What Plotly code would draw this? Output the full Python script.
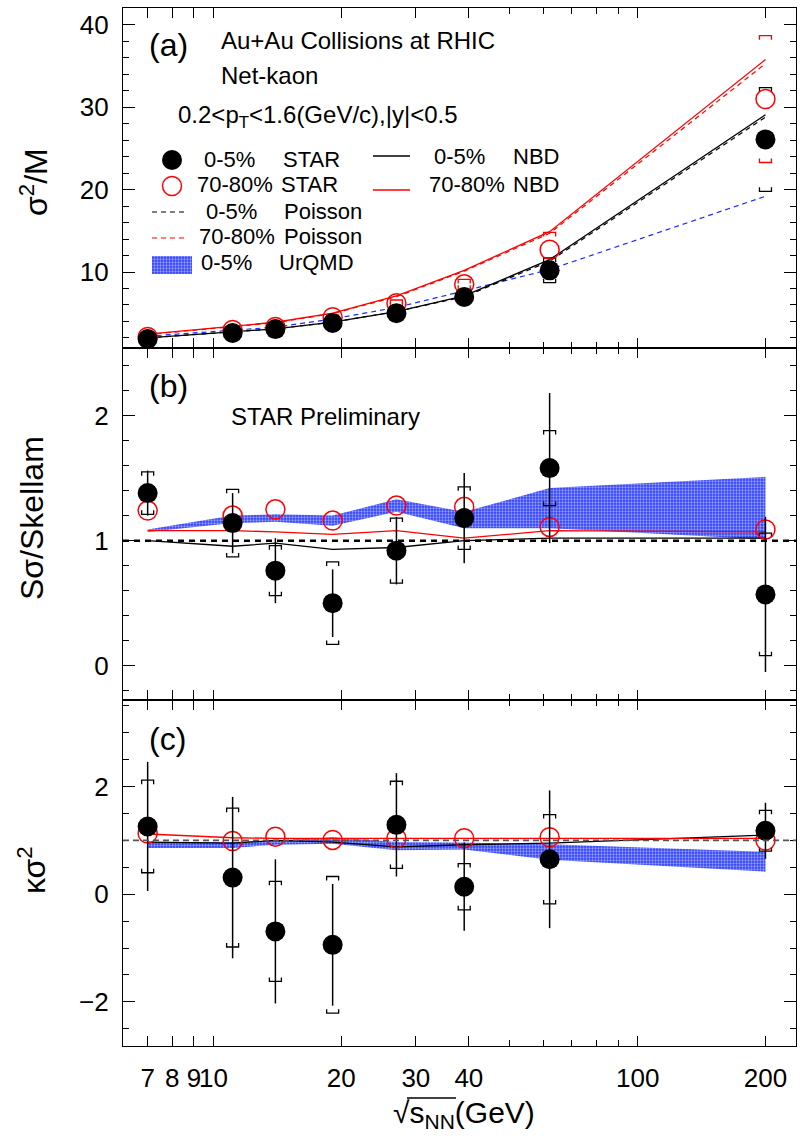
import plotly.graph_objects as go

# Collision energies (GeV) where the points are placed
energy = [7.0, 11.1, 14.0, 19.1, 27.0, 39.0, 62.0, 200.0]

# ---- (a) sigma^2/M ----
sm_central = [1.86, 2.59, 3.07, 3.80, 5.00, 6.96, 10.2, 26.1]
sm_central_sys = [0.15, 0.15, 0.15, 0.2, 0.3, 0.5, 1.5, 6.3]
sm_periph = [2.10, 2.96, 3.32, 4.50, 6.20, 8.50, 12.7, 31.0]
sm_periph_sys = [0.2, 0.2, 0.2, 0.3, 0.4, 0.6, 2.1, 7.7]
sm_nbd_central = [2.0, 2.7, 3.1, 3.9, 5.2, 7.1, 11.5, 29.1]
sm_poisson_central = [2.0, 2.7, 3.1, 3.9, 5.2, 7.0, 11.3, 28.8]
sm_nbd_periph = [2.45, 3.4, 3.9, 5.0, 7.1, 10.2, 14.9, 35.8]
sm_poisson_periph = [2.4, 3.35, 3.85, 4.95, 7.0, 10.1, 14.7, 35.3]
sm_urqmd = [2.2, 2.95, 3.3, 4.3, 5.7, 7.7, 10.3, 19.2]

# ---- (b) S*sigma / Skellam ----
ss_central = [1.38, 1.14, 0.76, 0.50, 0.92, 1.18, 1.58, 0.57]
ss_central_stat = [0.18, 0.24, 0.26, 0.27, 0.27, 0.36, 0.60, 0.62]
ss_central_sys = [0.17, 0.27, 0.20, 0.33, 0.26, 0.25, 0.30, 0.49]
ss_periph = [1.24, 1.20, 1.25, 1.16, 1.28, 1.27, 1.11, 1.09]
ss_nbd_central = [1.00, 0.955, 0.98, 0.93, 0.945, 1.00, 1.02, 1.02]
ss_nbd_periph = [1.08, 1.08, 1.07, 1.05, 1.08, 1.02, 1.08, 1.07]
ss_urqmd_hi = [1.09, 1.20, 1.21, 1.20, 1.33, 1.23, 1.42, 1.51]
ss_urqmd_lo = [1.07, 1.14, 1.15, 1.12, 1.23, 1.10, 1.10, 1.01]

# ---- (c) kappa*sigma^2 ----
ks_central = [1.26, 0.31, -0.69, -0.94, 1.29, 0.14, 0.65, 1.18]
ks_central_stat = [1.20, 1.50, 1.34, 1.13, 0.96, 0.82, 1.28, 0.52]
ks_central_sys = [0.86, 1.29, 0.93, 1.27, 0.81, 0.43, 0.83, 0.38]
ks_periph = [1.13, 0.99, 1.07, 1.01, 1.04, 1.04, 1.06, 1.00]
ks_nbd_central = [0.97, 0.95, 1.00, 0.97, 0.88, 0.92, 0.95, 1.10]
ks_nbd_periph = [1.12, 1.05, 1.04, 1.04, 1.05, 1.05, 1.05, 1.04]
ks_urqmd_hi = [0.97, 0.97, 1.00, 1.06, 0.97, 0.96, 0.93, 0.79]
ks_urqmd_lo = [0.86, 0.86, 0.92, 0.94, 0.82, 0.83, 0.64, 0.42]

x_tick_vals = [7, 8, 9, 10, 20, 30, 40, 100, 200]
x_minor_vals = [50, 60, 70, 80, 90]

# ---------------- geometry ----------------
W, H = 800, 1140
X0, X1 = 123, 796
LOG_RANGE = [0.787, 2.373]
PANELS = {  # pixel top, pixel bottom, y range
    "a": (8, 348, [0.77, 42.06]),
    "b": (348, 700, [-0.274, 2.54]),
    "c": (700, 1046, [-2.82, 3.61]),
}
FONT = "Liberation Sans, Arial, Helvetica, sans-serif"
BLUE = "#1a2bff"
URQMD_PATTERN = dict(shape=".", bgcolor="#2e40ff", fgcolor="white", size=3, solidity=0.45)


def ydomain(key):
    top, bot, _ = PANELS[key]
    return [1 - bot / H, 1 - top / H]


def px_per_unit(key):
    top, bot, rng = PANELS[key]
    return (bot - top) / (rng[1] - rng[0])


def brackets(xs, ys, errs, key, half_px=6, leg_px=4):
    """Systematic-error brackets: a short bar with small legs pointing to the point."""
    f = 10 ** (half_px * (LOG_RANGE[1] - LOG_RANGE[0]) / (X1 - X0))
    leg = leg_px / px_per_unit(key)
    bx, by = [], []
    for x, y, e in zip(xs, ys, errs):
        hi, lo = y + e, y - e
        bx += [x / f, x / f, x * f, x * f, None, x / f, x / f, x * f, x * f, None]
        by += [hi - leg, hi, hi, hi - leg, None, lo + leg, lo, lo, lo + leg, None]
    return bx, by


fig = go.Figure()
axes = {"a": ("x", "y"), "b": ("x2", "y2"), "c": ("x3", "y3")}


def line(key, ys, color, dash="solid", width=1.3):
    xa, ya = axes[key]
    fig.add_trace(go.Scatter(x=energy, y=ys, mode="lines", xaxis=xa, yaxis=ya,
                             line=dict(color=color, width=width, dash=dash), showlegend=False))


def band(key, lo, hi):
    xa, ya = axes[key]
    fig.add_trace(go.Scatter(x=energy + energy[::-1], y=hi + lo[::-1], mode="lines",
                             fill="toself", fillcolor="rgba(0,0,0,0)", fillpattern=URQMD_PATTERN,
                             line=dict(width=0, color=BLUE), xaxis=xa, yaxis=ya, showlegend=False))


def sys_brackets(key, ys, errs, color):
    xa, ya = axes[key]
    bx, by = brackets(energy, ys, errs, key)
    fig.add_trace(go.Scatter(x=bx, y=by, mode="lines", xaxis=xa, yaxis=ya,
                             line=dict(color=color, width=1.3), showlegend=False))


def points(key, ys, filled, stat=None):
    xa, ya = axes[key]
    if filled:
        marker = dict(symbol="circle", size=20, color="black", line=dict(width=0))
    else:
        marker = dict(symbol="circle-open", size=19, color="red", line=dict(width=1.5, color="red"))
    err = None
    if stat is not None:
        err = dict(type="data", array=stat, color="black", thickness=1.5, width=0)
    fig.add_trace(go.Scatter(x=energy, y=ys, mode="markers", marker=marker, error_y=err,
                             xaxis=xa, yaxis=ya, showlegend=False))


DASH = "5px,4px"

# (a)
line("a", sm_urqmd, BLUE, DASH, 1.2)
line("a", sm_poisson_central, "black", DASH, 1.2)
line("a", sm_poisson_periph, "red", DASH, 1.2)
line("a", sm_nbd_central, "black")
line("a", sm_nbd_periph, "red")
sys_brackets("a", sm_periph, sm_periph_sys, "red")
sys_brackets("a", sm_central, sm_central_sys, "black")
points("a", sm_periph, False)
points("a", sm_central, True)

# (b)
band("b", ss_urqmd_lo, ss_urqmd_hi)
line("b", ss_nbd_central, "black")
line("b", ss_nbd_periph, "red")
sys_brackets("b", ss_central, ss_central_sys, "black")
points("b", ss_periph, False)
points("b", ss_central, True, ss_central_stat)

# (c)
band("c", ks_urqmd_lo, ks_urqmd_hi)
line("c", ks_nbd_central, "black")
line("c", ks_nbd_periph, "red")
sys_brackets("c", ks_central, ks_central_sys, "black")
points("c", ks_periph, False)
points("c", ks_central, True, ks_central_stat)

# ---------------- legend glyphs (pixel overlay axes) ----------------
def glyph(**kw):
    fig.add_trace(go.Scatter(xaxis="x4", yaxis="y4", showlegend=False, **kw))

glyph(x=[172], y=[160], mode="markers", marker=dict(size=20, color="black"))
glyph(x=[172], y=[186], mode="markers",
      marker=dict(symbol="circle-open", size=19, color="red", line=dict(width=1.5, color="red")))
glyph(x=[152, 188], y=[212, 212], mode="lines", line=dict(color="black", width=1.2, dash=DASH))
glyph(x=[152, 188], y=[238, 238], mode="lines", line=dict(color="red", width=1.2, dash=DASH))
glyph(x=[152, 192, 192, 152, 152], y=[256, 256, 274, 274, 256], mode="lines", fill="toself",
      fillcolor="rgba(0,0,0,0)", fillpattern=URQMD_PATTERN, line=dict(width=0, color=BLUE))
glyph(x=[373, 410], y=[156, 156], mode="lines", line=dict(color="black", width=1.3))
glyph(x=[373, 410], y=[190, 190], mode="lines", line=dict(color="red", width=1.3))

# ---------------- axes ----------------
axis_line = dict(showline=True, linecolor="black", linewidth=1.2, mirror="allticks",
                 ticks="inside", tickcolor="black", tickwidth=1.2, showgrid=False, zeroline=False)

for i, key in enumerate(["a", "b", "c"], start=1):
    xname = "xaxis" if i == 1 else f"xaxis{i}"
    fig.layout[xname] = dict(
        type="log", range=LOG_RANGE, domain=[X0 / W, X1 / W], anchor=axes[key][1],
        tickvals=x_tick_vals, ticktext=[str(v) for v in x_tick_vals], ticklen=10,
        tickangle=0, showticklabels=(key == "c"),
        tickfont=dict(family=FONT, size=26, color="black"), ticklabelstandoff=9,
        minor=dict(tickvals=x_minor_vals, ticklen=6, ticks="inside", tickcolor="black", tickwidth=1.2),
        **axis_line)

fig.layout.yaxis = dict(domain=ydomain("a"), range=PANELS["a"][2], anchor="x",
                        tickvals=[10, 20, 30, 40], ticklen=12,
                        minor=dict(dtick=2, tick0=0, ticklen=6, ticks="inside", tickcolor="black", tickwidth=1.2),
                        **axis_line)
fig.layout.yaxis2 = dict(domain=ydomain("b"), range=PANELS["b"][2], anchor="x2",
                         tickvals=[0, 1, 2], ticklen=12,
                         minor=dict(dtick=0.2, tick0=0, ticklen=6, ticks="inside", tickcolor="black", tickwidth=1.2),
                         **axis_line)
fig.layout.yaxis3 = dict(domain=ydomain("c"), range=PANELS["c"][2], anchor="x3",
                         tickvals=[-2, 0, 2], ticklen=12,
                         minor=dict(dtick=0.5, tick0=0, ticklen=6, ticks="inside", tickcolor="black", tickwidth=1.2),
                         **axis_line)
for yname in ["yaxis", "yaxis2", "yaxis3"]:
    fig.layout[yname].tickfont = dict(family=FONT, size=26, color="black")
    fig.layout[yname].ticklabelstandoff = 8

fig.layout.xaxis4 = dict(domain=[0, 1], range=[0, W], visible=False, anchor="y4", fixedrange=True)
fig.layout.yaxis4 = dict(domain=[0, 1], range=[H, 0], visible=False, anchor="x4", fixedrange=True)

# ---------------- reference lines at unity, radical bar of the x title ----------------
shapes = [
    dict(type="line", xref="x2 domain", yref="y2", x0=0, x1=1, y0=1, y1=1,
         line=dict(color="black", width=2.5, dash="6px,5px")),
    dict(type="line", xref="x3 domain", yref="y3", x0=0, x1=1, y0=1, y1=1,
         line=dict(color="#555555", width=1.8, dash="6px,4px")),
    dict(type="line", xref="paper", yref="paper", x0=407 / W, x1=456 / W,
         y0=1 - 1098 / H, y1=1 - 1098 / H, line=dict(color="black", width=1.3)),
]

# ---------------- text ----------------
annotations = []


def text(s, x, y, size=22, anchor="left", angle=0):
    annotations.append(dict(text=s, x=x / W, y=1 - y / H, xref="paper", yref="paper",
                            xanchor=anchor, yanchor="middle", showarrow=False, textangle=angle,
                            font=dict(family=FONT, size=size, color="black")))


text("(a)", 147, 45, 32)
text("(b)", 147, 386, 32)
text("(c)", 147, 739, 32)
text("Au+Au Collisions at RHIC", 219, 40, 24)
text("Net-kaon", 219, 76, 24)
text("0.2&lt;p<sub>T</sub>&lt;1.6(GeV/c),|y|&lt;0.5", 176, 117, 24)
text("STAR Preliminary", 229, 416, 24)

text("0-5%", 202, 159)
text("STAR", 281, 159)
text("70-80%", 195, 185)
text("STAR", 279, 185)
text("0-5%", 204, 211)
text("Poisson", 282, 211)
text("70-80%", 197, 237)
text("Poisson", 282, 237)
text("0-5%", 199, 263)
text("UrQMD", 277, 263)
text("0-5%", 432, 157)
text("NBD", 511, 157)
text("70-80%", 427, 185)
text("NBD", 511, 185)

text("σ<sup>2</sup>/M", 34, 182, 32, "center", angle=-90)
text("Sσ/Skellam", 32, 518, 32, "center", angle=-90)
text("κσ<sup>2</sup>", 32, 870, 32, "center", angle=-90)
text("√s<sub>NN</sub>(GeV)", 464, 1114, 30, "center")

fig.update_layout(
    width=W, height=H, margin=dict(l=0, r=0, t=0, b=0),
    paper_bgcolor="white", plot_bgcolor="rgba(0,0,0,0)",
    showlegend=False, shapes=shapes, annotations=annotations,
    font=dict(family=FONT, color="black"),
)

fig.write_html("out.html")
